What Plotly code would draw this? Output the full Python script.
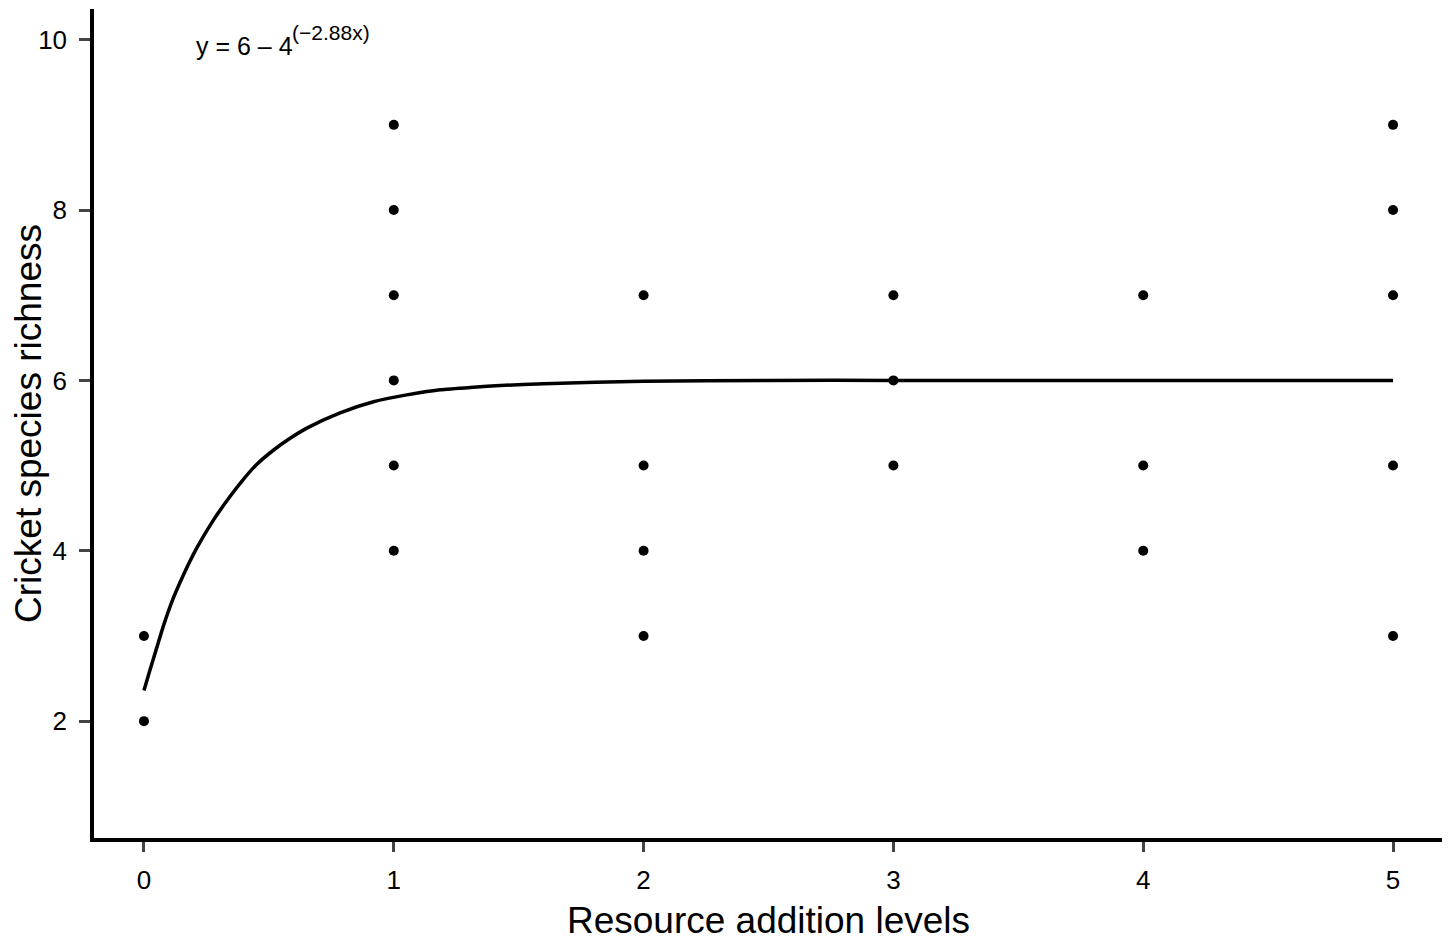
import plotly.graph_objects as go

# Observed data points
levels = [0, 0, 1, 1, 1, 1, 1, 1, 2, 2, 2, 2, 3, 3, 3, 4, 4, 4, 5, 5, 5, 5, 5]
richness = [2, 3, 4, 5, 6, 7, 8, 9, 3, 4, 5, 7, 5, 6, 7, 4, 5, 7, 3, 5, 7, 8, 9]

# Fitted curve
curve_x = [0.0, 0.024, 0.051, 0.077, 0.117, 0.157, 0.211, 0.278, 0.345, 0.39, 0.45, 0.518, 0.585, 0.652, 0.785,
           0.919, 1.052, 1.186, 1.319, 1.426, 1.6, 2.0, 2.5, 3.0, 4.0, 5.0]
curve_y = [2.36, 2.60, 2.86, 3.11, 3.44, 3.71, 4.03, 4.36, 4.64, 4.81, 5.01, 5.18, 5.32, 5.44, 5.62,
           5.75, 5.83, 5.89, 5.92, 5.94, 5.96, 5.99, 6.0, 6.0, 6.0, 6.0]

x_ticks = [0, 1, 2, 3, 4, 5]
y_ticks = [2, 4, 6, 8, 10]

FONT = "Liberation Sans, Arial, Helvetica, sans-serif"

fig = go.Figure()
fig.add_trace(go.Scatter(x=curve_x, y=curve_y, mode="lines", line=dict(color="black", width=3.5, shape="spline", smoothing=0.6),
                         hoverinfo="skip", showlegend=False))
fig.add_trace(go.Scatter(x=levels, y=richness, mode="markers",
                         marker=dict(color="black", size=10), showlegend=False))

fig.add_annotation(x=0.2, y=9.93, xref="x", yref="y", xanchor="left", yanchor="middle",
                   text="y = 6 \u2013 4", showarrow=False,
                   font=dict(family=FONT, size=25, color="black"))
fig.add_annotation(x=0.585, y=10.08, xref="x", yref="y", xanchor="left", yanchor="middle",
                   text="(\u22122.88x)", showarrow=False,
                   font=dict(family=FONT, size=21, color="black"))

fig.update_layout(
    width=1442, height=933,
    margin=dict(l=86, r=7, t=1, b=103),
    paper_bgcolor="white", plot_bgcolor="white",
    font=dict(family=FONT, color="black"),
    xaxis=dict(range=[-0.2, 5.2], tickvals=x_ticks, ticks="outside", ticklen=10, tickwidth=2.5,
               showline=True, linewidth=3.5, linecolor="black", showgrid=False, zeroline=False, automargin=False,
               ticklabelstandoff=6,
               tickfont=dict(size=26), title=dict(text="Resource addition levels", font=dict(size=37), standoff=20)),
    yaxis=dict(range=[0.628, 10.36], tickvals=y_ticks, ticks="outside", ticklen=11, tickwidth=2.5,
               showline=True, linewidth=3.5, linecolor="black", showgrid=False, zeroline=False, automargin=False,
               ticklabelstandoff=7,
               tickfont=dict(size=26), title=dict(text="Cricket species richness", font=dict(size=37), standoff=5)),
)

fig.write_html("out.html")
